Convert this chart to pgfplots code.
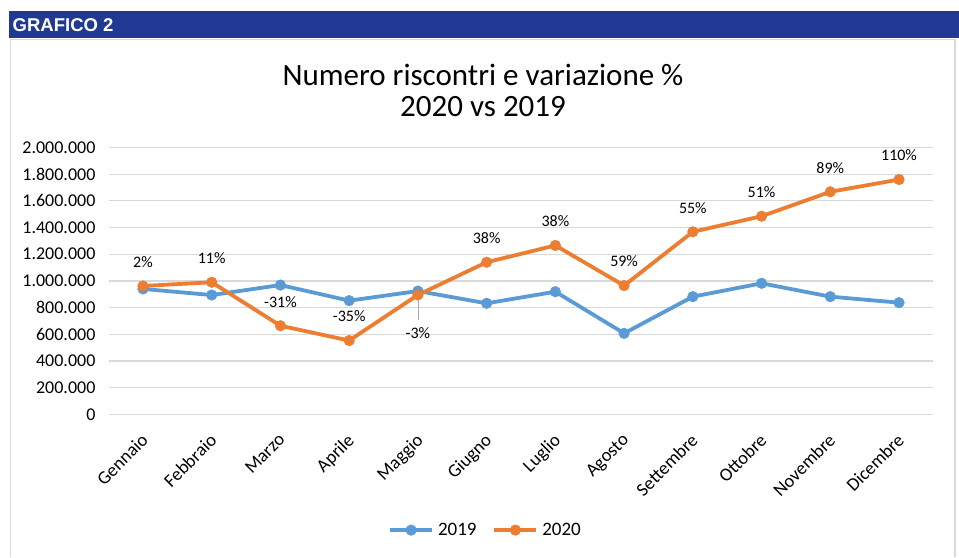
\documentclass[border=0pt]{standalone}
\usepackage{fontspec}
\setmainfont{Carlito}
\newfontfamily\bannerfont{Liberation Sans}
\usepackage{pgfplots}
\pgfplotsset{compat=1.18}
\usepackage{pgfplotstable}
\definecolor{c2019}{HTML}{5B9BD5}
\definecolor{c2020}{HTML}{ED7D31}
\definecolor{bannerblue}{HTML}{203A93}
\definecolor{gridgray}{HTML}{D9D9D9}

\pgfplotstableread{
m y19 y20 lbl
0 940000 962000 2
1 894000 990000 11
2 969000 664000 -31
3 852000 553000 -35
4 924000 895000 -3
5 832000 1140000 38
6 919000 1266000 38
7 607000 965000 59
8 882000 1368000 55
9 982000 1485000 51
10 882000 1668000 89
11 837000 1760000 110
}\data

\begin{document}
\begin{tikzpicture}
% page frame, banner and outer box
\path[fill=white] (0pt,0pt) rectangle (959pt,-557pt);
\fill[bannerblue] (9pt,-11pt) rectangle (959pt,-38pt);
\node[anchor=west, text=white, font=\bannerfont\bfseries\fontsize{18.5}{18.5}\selectfont, inner sep=0pt]
  at (12.5pt,-25pt) {GRAFICO 2};
\draw[gridgray, line width=1.5pt] (10.5pt,-557pt) -- (10.5pt,-39.5pt) -- (955pt,-39.5pt) -- (955pt,-557pt);
\node[align=center, font=\fontsize{31}{31}\selectfont, inner sep=0pt] at (483pt,-90pt)
  {Numero riscontri e variazione \%\\2020 vs 2019};

\begin{axis}[
  at={(108.6pt,-414.3pt)}, anchor=south west,
  scale only axis, width=824.8pt, height=266.8pt,
  xmin=-0.5, xmax=11.5, ymin=0, ymax=2000000,
  axis line style={draw=none},
  major tick length=0pt,
  ymajorgrids, grid style={gridgray, line width=1.2pt},
  xtick={0,...,11},
  xticklabels={Gennaio,Febbraio,Marzo,Aprile,Maggio,Giugno,Luglio,Agosto,Settembre,Ottobre,Novembre,Dicembre},
  xticklabel style={xshift=-3pt, yshift=-18pt, rotate=45, anchor=north east, font=\fontsize{18.5}{18.5}\selectfont, inner sep=0pt},
  ytick={0,200000,...,2000000},
  scaled y ticks=false,
  yticklabel style={anchor=east, font=\fontsize{18}{18}\selectfont, inner sep=0pt, xshift=-13pt,
    /pgf/number format/.cd, fixed, 1000 sep={.}, assume math mode=true},
  clip=false,
  legend columns=2,
  legend style={at={(0.457,-0.434)}, anchor=center, draw=none, fill=none,
    font=\fontsize{19}{19}\selectfont, column sep=2pt,
    /tikz/every even column/.append style={column sep=14pt}},
  legend image code/.code={\draw[mark repeat=2,mark phase=2,#1] plot coordinates {(0pt,0pt) (21pt,0pt) (42pt,0pt)};},
]
\addplot[c2019, line width=3.8pt, mark=*, mark size=5.3pt, mark options={line width=0.5pt}]
  table[x=m, y=y19] {\data};
\addlegendentry{2019}
\draw[gray!70, line width=0.8pt] (axis cs:4,870000) -- (axis cs:4,707000);
\addplot[c2020, line width=3.8pt, mark=*, mark size=5.3pt, mark options={line width=0.5pt}]
  table[x=m, y=y20] {\data};
\addlegendentry{2020}
% data labels
\addplot[draw=none, no marks, forget plot, skip coords between index={4}{5},
  point meta=explicit symbolic, nodes near coords={\pgfplotspointmeta\%},
  every node near coord/.append style={anchor=center, yshift=24pt, font=\fontsize{16}{16}\selectfont, text=black}]
  table[x=m, y=y20, meta=lbl] {\data};
\addplot[draw=none, no marks, forget plot, restrict x to domain=3.5:4.5,
  point meta=explicit symbolic, nodes near coords={\pgfplotspointmeta\%},
  every node near coord/.append style={anchor=center, yshift=-38pt, font=\fontsize{16}{16}\selectfont, text=black}]
  table[x=m, y=y20, meta=lbl] {\data};
\end{axis}
\end{tikzpicture}
\end{document}
